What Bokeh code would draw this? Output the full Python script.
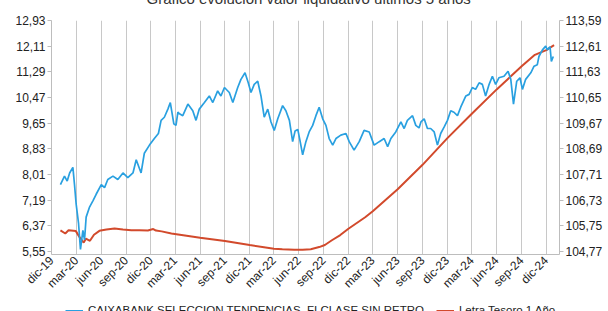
import math
import pandas as pd
from bokeh.plotting import figure
from bokeh.layouts import column
from bokeh.models import (Range1d, LinearAxis, FixedTicker, CustomJSTickFormatter,
                          Legend, LegendItem, ColumnDataSource)
from bokeh.embed import file_html
from bokeh.resources import INLINE

# ---------------- data ----------------
fund_name = "CAIXABANK SELECCION TENDENCIAS, FI CLASE SIN RETRO"
letra_name = "Letra Tesoro 1 Año"
title_text = "Gráfico evolución valor liquidativo últimos 5 años"

fund_dates = [
    "2020-01-02", "2020-01-17", "2020-01-27", "2020-02-05", "2020-02-17", "2020-02-23", "2020-02-29",
    "2020-03-09", "2020-03-16", "2020-03-25", "2020-03-31", "2020-04-06", "2020-04-18", "2020-05-01",
    "2020-05-13", "2020-06-01", "2020-06-13", "2020-06-25", "2020-07-14", "2020-08-01", "2020-08-20",
    "2020-09-07", "2020-09-26", "2020-10-08", "2020-10-26", "2020-11-07", "2020-11-26", "2020-12-14",
    "2020-12-29",
    "2021-01-08", "2021-01-20", "2021-02-02", "2021-02-11", "2021-02-24", "2021-03-04", "2021-03-11",
    "2021-03-17", "2021-03-29", "2021-04-17", "2021-05-05", "2021-05-17", "2021-05-29", "2021-06-17",
    "2021-07-05", "2021-07-18", "2021-08-05", "2021-08-17", "2021-08-30", "2021-09-17", "2021-09-30",
    "2021-10-18", "2021-10-30", "2021-11-14", "2021-11-26", "2021-12-06", "2021-12-18", "2021-12-31",
    "2022-01-12", "2022-01-24", "2022-02-06", "2022-02-18", "2022-03-02", "2022-03-15", "2022-04-02",
    "2022-04-14", "2022-04-27", "2022-05-09", "2022-05-18", "2022-05-28", "2022-06-05", "2022-06-15",
    "2022-06-27", "2022-07-09", "2022-07-22", "2022-08-03", "2022-08-15", "2022-08-28", "2022-09-09",
    "2022-09-21", "2022-10-04", "2022-10-16", "2022-11-03", "2022-11-22", "2022-12-04", "2022-12-22",
    "2023-01-10", "2023-01-28", "2023-02-16", "2023-03-06", "2023-03-25", "2023-04-12", "2023-04-25",
    "2023-05-07", "2023-05-25", "2023-06-13", "2023-06-25", "2023-07-07", "2023-07-26", "2023-08-07",
    "2023-08-19", "2023-08-26", "2023-09-07", "2023-09-19", "2023-10-01", "2023-10-14", "2023-10-26",
    "2023-11-07", "2023-11-20", "2023-12-02", "2023-12-14", "2023-12-26",
    "2024-01-08", "2024-01-20", "2024-02-08", "2024-02-20", "2024-03-03", "2024-03-15", "2024-03-28",
    "2024-04-09", "2024-04-21", "2024-05-04", "2024-05-16", "2024-05-28", "2024-06-09", "2024-06-28",
    "2024-07-13", "2024-07-23", "2024-08-02", "2024-08-14", "2024-08-26", "2024-09-04", "2024-09-16",
    "2024-10-05", "2024-10-17", "2024-10-29", "2024-11-04", "2024-11-17", "2024-11-29", "2024-12-05",
    "2024-12-15", "2024-12-20", "2024-12-27",
]
fund_values = [
    7.69, 7.96, 7.80, 8.06, 8.24, 7.69, 7.07,
    6.44, 5.62, 6.23, 5.92, 6.65, 6.96, 7.17,
    7.38, 7.69, 7.59, 7.85, 7.96, 7.85, 8.06,
    7.91, 8.06, 8.48, 8.06, 8.69, 8.95, 9.16,
    9.32,
    9.74, 9.84, 10.10, 10.31, 9.63, 9.58, 10.00,
    9.95, 9.89, 10.26, 10.05, 9.74, 10.10, 10.31,
    10.52, 10.31, 10.68, 10.52, 10.79, 10.63, 10.31,
    10.79, 11.05, 11.26, 10.94, 10.63, 10.89, 10.99,
    10.52, 9.84, 10.10, 9.69, 9.42, 9.79, 10.21,
    10.05, 9.74, 9.06, 9.40, 9.45, 9.10, 8.64,
    9.06, 9.37, 9.58, 9.89, 10.16, 9.79, 9.58,
    9.16, 8.95, 9.16, 9.27, 9.32, 9.06, 8.79,
    9.06, 9.42, 9.37, 8.95, 9.06, 9.16, 8.90,
    9.16, 9.37, 9.69, 9.48, 9.74, 9.89, 9.58,
    9.50, 9.69, 9.79, 9.48, 9.48, 9.37, 8.95,
    9.32, 9.53, 9.74, 10.05, 10.00,
    9.89, 10.16, 10.52, 10.57, 10.79, 10.73, 10.94,
    10.89, 10.52, 10.89, 11.15, 10.89, 11.10, 11.15,
    11.31, 11.05, 10.26, 10.99, 11.10, 10.73, 11.05,
    11.26, 11.47, 11.52, 11.78, 11.99, 12.11, 11.99,
    12.09, 11.62, 11.78,
]

letra_dates = [
    "2020-01-02", "2020-01-20", "2020-02-01", "2020-02-28", "2020-03-12", "2020-03-20", "2020-03-28",
    "2020-04-05", "2020-04-20", "2020-05-05", "2020-05-25", "2020-06-20", "2020-07-20", "2020-08-20",
    "2020-09-20", "2020-10-20", "2020-11-20", "2020-12-10", "2020-12-20",
    "2021-01-10", "2021-02-15", "2021-06-01", "2021-09-01", "2021-12-01",
    "2022-03-01", "2022-04-01", "2022-05-15", "2022-06-15", "2022-07-15", "2022-08-15", "2022-09-05",
    "2022-10-01", "2022-11-01", "2022-12-01",
    "2023-01-01", "2023-02-01", "2023-03-01", "2023-06-01", "2023-09-01", "2023-12-01",
    "2024-03-01", "2024-06-01", "2024-09-01", "2024-10-20", "2024-12-01", "2024-12-30",
]
letra_values = [
    105.58, 105.46, 105.58, 105.55, 105.33, 105.22, 105.11,
    105.26, 105.18, 105.41, 105.56, 105.61, 105.65, 105.61,
    105.58, 105.58, 105.57, 105.63, 105.57,
    105.54, 105.46, 105.30, 105.17, 105.02,
    104.88, 104.86, 104.84, 104.84, 104.86, 104.94, 105.02,
    105.20, 105.40, 105.64,
    105.86, 106.08, 106.31, 107.15, 108.08, 109.09,
    110.03, 110.96, 111.84, 112.28, 112.46, 112.65,
]

left_ticks = [5.55, 6.37, 7.19, 8.01, 8.83, 9.65, 10.47, 11.29, 12.11, 12.93]
right_ticks = [104.77, 105.75, 106.73, 107.71, 108.69, 109.67, 110.65, 111.63, 112.61, 113.59]
x_tick_dates = [
    "2019-12-01", "2020-03-01", "2020-06-01", "2020-09-01", "2020-12-01", "2021-03-01", "2021-06-01",
    "2021-09-01", "2021-12-01", "2022-03-01", "2022-06-01", "2022-09-01", "2022-12-01", "2023-03-01",
    "2023-06-01", "2023-09-01", "2023-12-01", "2024-03-01", "2024-06-01", "2024-09-01", "2024-12-01",
]

# ---------------- styling ----------------
BLUE = "#29a0e0"
RED = "#d24a2c"
AXIS_GREY = "#bdbdbd"
GRID_GREY = "#c8c8c8"
TEXT = "#222222"
FONT = "Liberation Sans"
SHIFT = 30          # canvas part pushed above the window top (title is cut there)
MAIN_BOTTOM = 298   # page y where the chart canvas ends; the legend strip follows


def to_ms(s):
    return pd.Timestamp(s).value / 1e6


fund_src = ColumnDataSource(dict(x=pd.to_datetime(fund_dates), y=fund_values))
letra_src = ColumnDataSource(dict(x=pd.to_datetime(letra_dates), y=letra_values))
x_ticks = [to_ms(d) for d in x_tick_dates]

x_start = to_ms("2019-11-30")
x_end = to_ms("2025-01-19")

p = figure(width=608, height=MAIN_BOTTOM + SHIFT, x_axis_type="datetime",
           x_range=Range1d(x_start, x_end), y_range=Range1d(5.456, 12.93),
           output_backend="svg", toolbar_location=None,
           min_border_left=51, min_border_right=49, min_border_top=20 + SHIFT,
           min_border_bottom=MAIN_BOTTOM - 258)
p.extra_y_ranges = {"r": Range1d(104.657, 113.59)}
p.outline_line_color = None
p.background_fill_color = "white"
p.border_fill_color = "white"

# title (only its lower edge is visible, as in the reference)
p.title.text = title_text
p.title.align = "left"
p.title.offset = 95
p.title.standoff = 27
p.title.text_font_size = "15px"
p.title.text_font = FONT
p.title.text_font_style = "normal"
p.title.text_color = "#333333"

# grid
p.ygrid.visible = False
p.xgrid.ticker = FixedTicker(ticks=x_ticks)
p.xgrid.grid_line_color = GRID_GREY
p.xgrid.grid_line_width = 1

# x axis
xa = p.xaxis[0]
xa.ticker = FixedTicker(ticks=x_ticks)
xa.formatter = CustomJSTickFormatter(code="""
const m = ['ene','feb','mar','abr','may','jun','jul','ago','sep','oct','nov','dic'];
const d = new Date(tick);
return m[d.getUTCMonth()] + '-' + String(d.getUTCFullYear()).slice(2);
""")
xa.major_label_orientation = math.pi / 4
xa.axis_line_color = AXIS_GREY
xa.major_tick_line_color = None
xa.major_tick_out = 0
xa.major_tick_in = 0
xa.minor_tick_line_color = None
xa.major_label_text_font_size = "12px"
xa.major_label_text_font = FONT
xa.major_label_text_color = TEXT
xa.major_label_standoff = 4

ya = p.yaxis[0]
ya.ticker = FixedTicker(ticks=left_ticks)
ya.formatter = CustomJSTickFormatter(code="return tick.toFixed(2).replace('.', ',');")

ra = LinearAxis(y_range_name="r", ticker=FixedTicker(ticks=right_ticks),
                formatter=CustomJSTickFormatter(code="return tick.toFixed(2).replace('.', ',');"))
p.add_layout(ra, "right")

for ax in (ya, ra):
    ax.axis_line_color = AXIS_GREY
    ax.major_tick_line_color = AXIS_GREY
    ax.major_tick_out = 4
    ax.major_tick_in = 0
    ax.minor_tick_line_color = None
    ax.major_label_text_font_size = "12px"
    ax.major_label_text_font = FONT
    ax.major_label_text_color = TEXT
    ax.major_label_standoff = 2

# lines
p.line("x", "y", source=letra_src, y_range_name="r", line_color=RED, line_width=2)
p.line("x", "y", source=fund_src, line_color=BLUE, line_width=1.7)

# ---------------- legend strip ----------------
q = figure(width=608, height=311 - MAIN_BOTTOM, x_range=Range1d(0, 1), y_range=Range1d(0, 1),
           x_axis_type=None, y_axis_type=None, output_backend="svg", toolbar_location=None,
           min_border=0, min_border_left=0, min_border_right=0, min_border_top=0, min_border_bottom=0)
q.outline_line_color = None
q.background_fill_color = "white"
q.border_fill_color = "white"
# legend-sample renderers: their points lie outside this strip's ranges, only the legend shows them
lg_fund = q.line(x=[5, 6], y=[5, 5], line_color=BLUE, line_width=2)
lg_letra = q.line(x=[5, 6], y=[5, 5], line_color=RED, line_width=2)

legend = Legend(items=[LegendItem(label=fund_name, renderers=[lg_fund]),
                       LegendItem(label=letra_name, renderers=[lg_letra])],
                orientation="horizontal", location=(14, -5),
                glyph_width=18, glyph_height=11, label_standoff=5, spacing=12,
                padding=0, margin=0, border_line_color=None, background_fill_alpha=0,
                label_text_font_size="11.5px", label_text_font=FONT, label_text_color=TEXT,
                label_height=11)
q.add_layout(legend)

layout = column(p, q, spacing=0, styles={"margin-top": f"-{SHIFT}px"})

open("out.html", "w").write(file_html(layout, INLINE))
